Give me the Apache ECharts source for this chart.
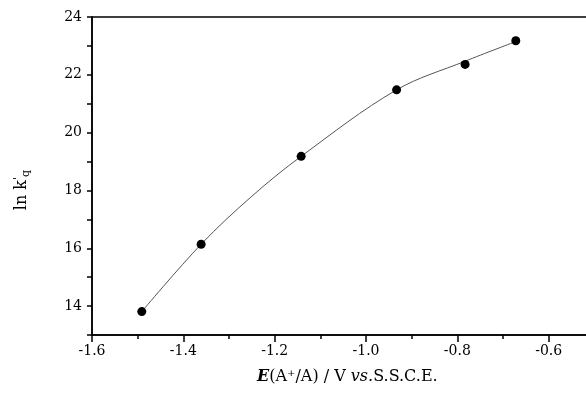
<!DOCTYPE html>
<html>
<head>
<meta charset="utf-8">
<script src="https://cdn.jsdelivr.net/npm/echarts@6/dist/echarts.min.js"></script>
<style>
  html, body { margin: 0; padding: 0; background: #fff; }
  #chart { width: 586px; height: 394px; }
</style>
</head>
<body>
<div id="chart"></div>
<script>
// measured points (E / V, ln k'q)
const potentials = [-1.491, -1.361, -1.142, -0.933, -0.783, -0.672];
const lnKq = [13.81, 16.14, 19.18, 21.48, 22.36, 23.18];
// fitted curve
const fitX = [-1.491, -1.361, -1.25, -1.142, -0.933, -0.783, -0.672];
const fitY = [13.81, 16.14, 17.8, 19.18, 21.48, 22.47, 23.15];
const yLabels = [14, 16, 18, 20, 22, 24];

const font = 'DejaVu Serif';
const chart = echarts.init(document.getElementById('chart'));

const tickLine = { color: '#000', width: 1.5 };

chart.setOption({
  animation: false,
  backgroundColor: '#fff',
  grid: {
    left: 92, top: 17, bottom: 59, right: -54,
    outerBoundsMode: 'none',
    show: true, borderColor: '#000', borderWidth: 1.5
  },
  xAxis: {
    type: 'value', min: -1.6, max: -0.4, interval: 0.2,
    axisLine: { lineStyle: tickLine },
    axisTick: { length: 7, lineStyle: tickLine },
    minorTick: { show: true, splitNumber: 2, length: 4, lineStyle: tickLine },
    axisLabel: {
      margin: 9, color: '#000', fontFamily: font, fontSize: 14,
      formatter: v => (v > -0.55 ? '' : v.toFixed(1))
    },
    splitLine: { show: false }
  },
  yAxis: {
    type: 'value', min: 13, max: 24, interval: 1,
    axisLine: { show: true, lineStyle: tickLine },
    axisTick: { length: 5, lineStyle: tickLine },
    axisLabel: {
      margin: 10, color: '#000', fontFamily: font, fontSize: 14,
      formatter: v => (yLabels.indexOf(Math.round(v)) >= 0 ? String(Math.round(v)) : '')
    },
    splitLine: { show: false }
  },
  graphic: [
    {
      type: 'text', left: 257, top: 369,
      style: {
        text: '{e|E}(A⁺/A) / V {i|vs.}S.S.C.E.',
        fontFamily: font, fontSize: 16, fill: '#000',
        rich: {
          e: { fontFamily: font, fontSize: 16, fontStyle: 'italic', fontWeight: 'bold' },
          i: { fontFamily: font, fontSize: 16, fontStyle: 'italic' }
        }
      }
    },
    {
      type: 'text', x: 22, y: 190, rotation: Math.PI / 2,
      style: {
        text: 'ln k{sup|\'}{sub|q}',
        fontFamily: font, fontSize: 16, fill: '#000',
        align: 'center', verticalAlign: 'middle',
        rich: {
          sup: { fontFamily: font, fontSize: 11, verticalAlign: 'top', padding: [0, 0, 8, 0] },
          sub: { fontFamily: font, fontSize: 11, verticalAlign: 'bottom', padding: [6, 0, 0, 0] }
        }
      }
    }
  ],
  series: [
    {
      type: 'line',
      data: fitX.map((x, i) => [x, fitY[i]]),
      smooth: 0.35,
      showSymbol: false,
      lineStyle: { color: '#555', width: 1 },
      z: 2
    },
    {
      type: 'scatter',
      data: potentials.map((x, i) => [x, lnKq[i]]),
      symbol: 'circle', symbolSize: 9,
      itemStyle: { color: '#000', opacity: 1 },
      z: 3
    }
  ]
});
</script>
</body>
</html>
